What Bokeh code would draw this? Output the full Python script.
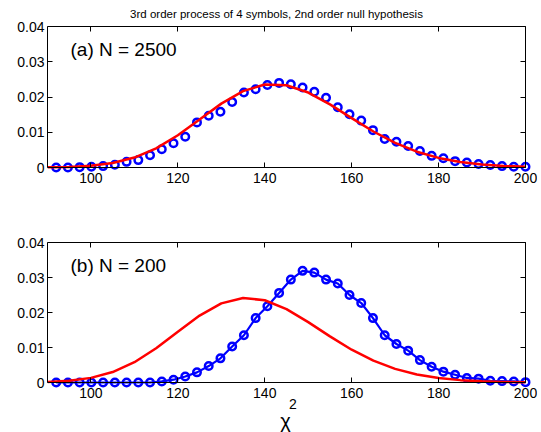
from bokeh.plotting import figure
from bokeh.models import LinearAxis, FixedTicker, Label, Range1d
from bokeh.layouts import column
from bokeh.embed import file_html
from bokeh.resources import INLINE

# ---------------- data ----------------
x_bins = [92.0, 94.7, 97.4, 100.1, 102.8, 105.5, 108.2, 110.9, 113.6, 116.3,
          119.0, 121.7, 124.4, 127.1, 129.8, 132.5, 135.2, 137.9, 140.6, 143.3,
          146.0, 148.7, 151.4, 154.1, 156.8, 159.5, 162.2, 164.9, 167.6, 170.3,
          173.0, 175.7, 178.4, 181.1, 183.8, 186.5, 189.2, 191.9, 194.6, 197.3,
          200.0]

obs_a = [0.0000, 0.0000, 0.0001, 0.0002, 0.0004, 0.0008, 0.0016, 0.0021, 0.0035, 0.0052,
         0.0069, 0.0087, 0.0128, 0.0147, 0.0158, 0.0186, 0.0213, 0.0222, 0.0234, 0.0240,
         0.0236, 0.0227, 0.0215, 0.0198, 0.0171, 0.0151, 0.0133, 0.0106, 0.0081, 0.0073,
         0.0061, 0.0047, 0.0033, 0.0026, 0.0018, 0.0014, 0.0010, 0.0007, 0.0004, 0.0002,
         0.0002]

obs_b = [0.0000, 0.0000, 0.0000, 0.0000, 0.0000, 0.0000, 0.0000, 0.0000, 0.0000, 0.0003,
         0.0008, 0.0017, 0.0029, 0.0047, 0.0069, 0.0103, 0.0135, 0.0184, 0.0218, 0.0256,
         0.0294, 0.0319, 0.0314, 0.0294, 0.0283, 0.0250, 0.0227, 0.0184, 0.0135, 0.0110,
         0.0091, 0.0064, 0.0045, 0.0031, 0.0022, 0.0013, 0.0011, 0.0005, 0.0004, 0.0003,
         0.0001]

x_theory = [90, 95, 100, 105, 110, 115, 120, 125, 130, 135, 140, 145,
            150, 155, 160, 165, 170, 175, 180, 185, 190, 195, 200]

theory_a = [0.00004, 0.000154, 0.000482, 0.001262, 0.002818, 0.005432, 0.009146,
            0.01363, 0.01812, 0.02168, 0.02353, 0.02333, 0.02126, 0.01790, 0.01400,
            0.01021, 0.006982, 0.004489, 0.002723, 0.001564, 0.000853, 0.000443, 0.000219]

theory_b = [0.000152, 0.000491, 0.00132, 0.002988, 0.0058, 0.009785, 0.01451,
            0.01912, 0.0226, 0.02415, 0.0235, 0.02097, 0.01726, 0.01318, 0.009367,
            0.006231, 0.003895, 0.002295, 0.001279, 0.000677, 0.00034, 0.000164, 0.000075]

x_ticks = [100, 120, 140, 160, 180, 200]
x_tick_labels = ["100", "120", "140", "160", "180", "200"]
y_ticks = [0, 0.01, 0.02, 0.03, 0.04]
y_tick_labels = ["0", "0.01", "0.02", "0.03", "0.04"]

title_text = "3rd order process of 4 symbols, 2nd order null hypothesis"
panel_labels = ["(a) N = 2500", "(b) N = 200"]
x_label_main = "\u03c7"
x_label_sup = "2"

# ---------------- layout constants (pixels) ----------------
FONT = "Liberation Sans"
W = 541
H = 432
LEFT = 47            # frame left edge (x = 90)
AX_W = 478           # pixels from x=90 to x=200
EXTRA = 12           # frame pixels right of x=200 (markers / "200" label not clipped)
X0, X1 = 90, 200
Y0, Y1 = 0, 0.04
px_per_x = AX_W / (X1 - X0)

H_P1 = 195
H_P2 = H - H_P1


def style_axis(ax, ticks, labels=None, font_size="14px", standoff=3):
    ax.ticker = FixedTicker(ticks=ticks)
    ax.minor_tick_in = 0
    ax.minor_tick_out = 0
    ax.major_tick_out = 0
    ax.major_tick_in = 5
    ax.axis_line_color = "black"
    ax.axis_line_width = 1
    ax.major_tick_line_color = "black"
    ax.major_tick_line_width = 1
    ax.major_label_text_font = FONT
    ax.major_label_text_color = "black"
    if labels is None:
        ax.major_label_text_font_size = "0px"
        ax.major_label_standoff = 0
        ax.major_label_overrides = {t: "" for t in ticks}
    else:
        ax.major_label_text_font_size = font_size
        ax.major_label_standoff = standoff
        ax.major_label_overrides = dict(zip(ticks, labels))


def make_panel(height, top_px, ax_h):
    """Frame fills the figure height; top_px = pixels from top to y=0.04,
    ax_h = pixels from y=0.04 to y=0."""
    px_per_y = ax_h / (Y1 - Y0)
    below_px = height - top_px - ax_h
    y_start = Y0 - below_px / px_per_y
    y_end = Y1 + top_px / px_per_y
    x_end = X1 + EXTRA / px_per_x
    p = figure(width=W, height=height,
               x_range=Range1d(X0, x_end), y_range=Range1d(y_start, y_end),
               output_backend="svg", toolbar_location=None,
               min_border_left=LEFT, min_border_right=W - LEFT - AX_W - EXTRA,
               min_border_top=0, min_border_bottom=0)
    p.xgrid.visible = False
    p.ygrid.visible = False
    p.outline_line_color = None
    p.background_fill_color = "white"
    p.border_fill_color = "white"

    xb = p.xaxis[0]
    xb.fixed_location = Y0
    xb.bounds = (X0, X1)
    style_axis(xb, x_ticks, x_tick_labels, "14px", 5)

    yl = p.yaxis[0]
    yl.bounds = (Y0, Y1)
    style_axis(yl, y_ticks, y_tick_labels, "14px", 3)

    xt = LinearAxis(fixed_location=Y1, bounds=(X0, X1))
    style_axis(xt, x_ticks)
    p.add_layout(xt, "above")

    yr = LinearAxis(fixed_location=X1, bounds=(Y0, Y1))
    style_axis(yr, y_ticks)
    p.add_layout(yr, "right")
    return p, px_per_y


# ---------------- top panel ----------------
p1, ppy1 = make_panel(H_P1, 26, 141)
p1.scatter(x_bins, obs_a, marker="circle", size=7.5, fill_color=None,
           line_color="#0000ff", line_width=2.5)
p1.line(x_theory, theory_a, line_color="#ff0000", line_width=2.5)
p1.add_layout(Label(x=X0 + 23 / px_per_x, y=Y1 - 23 / ppy1, text=panel_labels[0],
                    text_font=FONT, text_font_size="19px", text_color="black",
                    text_baseline="middle", text_align="left"))
p1.add_layout(Label(x=X0 + (276 - LEFT) / px_per_x, y=Y1 + 13 / ppy1, text=title_text,
                    text_font=FONT, text_font_size="11.5px", text_color="black",
                    text_baseline="middle", text_align="center"))

# ---------------- bottom panel (x label lives in its frame) ----------------
top2 = 242 - H_P1
p2, ppy2 = make_panel(H_P2, top2, 140)
p2.line(x_bins, obs_b, line_color="#0000ff", line_width=2.2)
p2.scatter(x_bins, obs_b, marker="circle", size=7.5, fill_color=None,
           line_color="#0000ff", line_width=2.5)
p2.line(x_theory, theory_b, line_color="#ff0000", line_width=2.5)
p2.add_layout(Label(x=X0 + 23 / px_per_x, y=Y1 - 23 / ppy2, text=panel_labels[1],
                    text_font=FONT, text_font_size="19px", text_color="black",
                    text_baseline="middle", text_align="left"))

y0_px = 382   # picture row of y = 0 in the bottom panel
p2.add_layout(Label(x=X0 + (285 - LEFT) / px_per_x, y=Y0 - (420 - y0_px) / ppy2,
                    text=x_label_main, text_font=FONT, text_font_size="20px",
                    text_color="black", text_baseline="alphabetic", text_align="center"))
p2.add_layout(Label(x=X0 + (288.5 - LEFT) / px_per_x, y=Y0 - (403.5 - y0_px) / ppy2,
                    text=x_label_sup, text_font=FONT, text_font_size="14px",
                    text_color="black", text_baseline="alphabetic", text_align="left"))

layout = column(p1, p2, spacing=0)
open("out.html", "w").write(file_html(layout, INLINE))
